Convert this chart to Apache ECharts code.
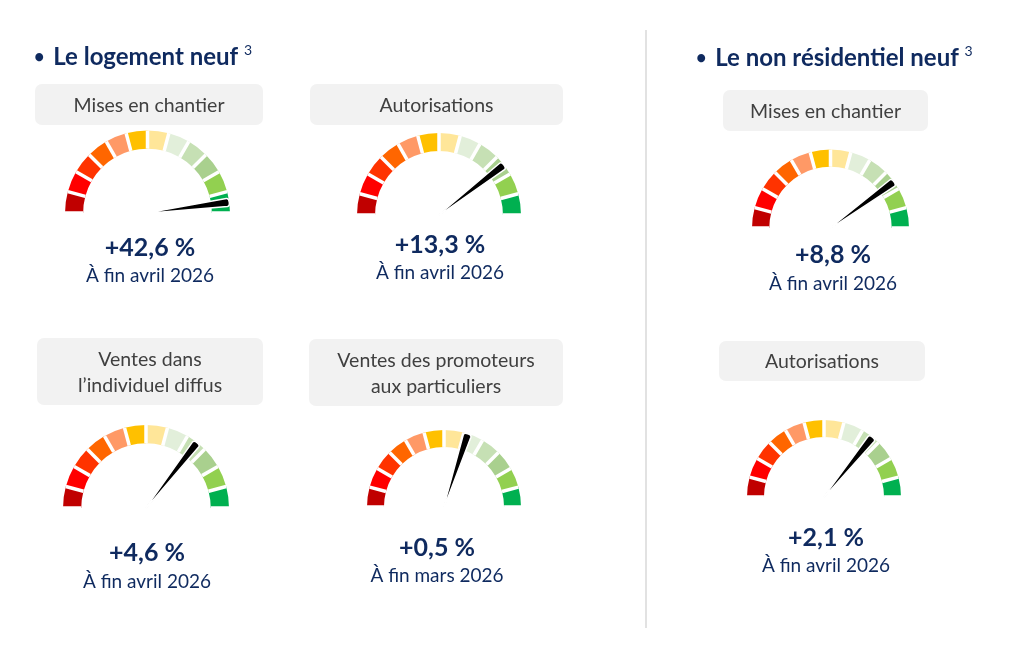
<!DOCTYPE html>
<html>
<head>
<meta charset="UTF-8" />
<title>Construction neuve</title>
<script src="https://cdn.jsdelivr.net/npm/echarts@6/dist/echarts.min.js"></script>
<style>
    html, body { margin: 0; padding: 0; background: #fff; }
    #main { width: 1024px; height: 650px; }
</style>
</head>
<body>
<div id="main"></div>
<script>
var sectionTitles = ['Le logement neuf', 'Le non résidentiel neuf'];
var indicatorNames = ['Mises en chantier', 'Autorisations', 'Ventes dans\nl’individuel diffus',
    'Ventes des promoteurs\naux particuliers', 'Mises en chantier', 'Autorisations'];
var evolutions = ['+42,6 %', '+13,3 %', '+4,6 %', '+0,5 %', '+8,8 %', '+2,1 %'];
var periods = ['À fin avril 2026', 'À fin avril 2026', 'À fin avril 2026', 'À fin mars 2026',
    'À fin avril 2026', 'À fin avril 2026'];
// position de l'aiguille sur le cadran (0 = gauche, 100 = droite)
var needlePos = [95.8, 79.1, 71.1, 60, 80, 71.7];
var zoneColors = ['#c00000', '#ff0000', '#ff3300', '#ff6600', '#ff9966', '#ffc000',
    '#ffe699', '#e2efda', '#c6e0b4', '#a9d08e', '#92d050', '#00b050'];

// mise en page (px)
var layout = [
    { cx: 147.5, cy: 213, r: 82.5, box: [35, 84, 228, 41], tx: 150, vy: 248, dy: 276 },
    { cx: 439, cy: 215, r: 82, box: [310, 84, 253, 41], tx: 440, vy: 245, dy: 273 },
    { cx: 146, cy: 508, r: 83, box: [37, 338, 226, 67], tx: 147, vy: 553, dy: 582 },
    { cx: 444, cy: 507, r: 77, box: [309, 339, 254, 67], tx: 437, vy: 548, dy: 576 },
    { cx: 830.5, cy: 228, r: 78.5, box: [723, 90, 205, 41], tx: 833, vy: 255, dy: 284 },
    { cx: 824, cy: 497, r: 77, box: [719, 341, 206, 40], tx: 826, vy: 538, dy: 566 }
];
var titlePos = [[34, 57], [696, 58]];

var FONT = 'Lato, "Open Sans", sans-serif';
var NAVY = '#0f2a5f';

var axisColors = zoneColors.map(function (c, i) { return [(i + 1) / zoneColors.length, c]; });

function txt(text, x, y, size, weight, color, lh) {
    return {
        type: 'text',
        style: {
            text: text, x: x, y: y,
            fontFamily: FONT, fontSize: size, fontWeight: weight, fill: color,
            align: 'center', verticalAlign: 'middle', textAlign: 'center', textVerticalAlign: 'middle',
            lineHeight: lh || size + 6
        }
    };
}

var graphics = [];
var series = [];

// séparateur vertical
graphics.push({
    type: 'line',
    shape: { x1: 646, y1: 30, x2: 646, y2: 628 },
    style: { stroke: '#d9d9d9', lineWidth: 1.5 }
});

sectionTitles.forEach(function (t, i) {
    graphics.push({
        type: 'text',
        style: {
            text: '{d|•  }{b|' + t + ' }{s|3}',
            x: titlePos[i][0], y: titlePos[i][1],
            align: 'left', verticalAlign: 'middle', textAlign: 'left', textVerticalAlign: 'middle',
            rich: {
                d: { fontFamily: FONT, fontSize: 18, fontWeight: 'bold', fill: NAVY, color: NAVY, lineHeight: 28 },
                b: { fontFamily: FONT, fontSize: 24, fontWeight: 'bold', fill: NAVY, color: NAVY, lineHeight: 28 },
                s: { fontFamily: FONT, fontSize: 14, fill: NAVY, color: NAVY, verticalAlign: 'top', lineHeight: 28 }
            }
        }
    });
});

layout.forEach(function (L, i) {
    graphics.push({
        type: 'rect',
        shape: { x: L.box[0], y: L.box[1], width: L.box[2], height: L.box[3], r: 7 },
        style: { fill: '#f2f2f2' }
    });
    graphics.push(txt(indicatorNames[i], L.box[0] + L.box[2] / 2, L.box[1] + L.box[3] / 2 + 1, 19.5, 'normal', '#404040', 26));
    graphics.push(txt(evolutions[i], L.tx, L.vy, 25, 'bold', NAVY));
    graphics.push(txt(periods[i], L.tx, L.dy, 19, 'normal', NAVY));

    var thick = L.r * 0.22;
    series.push({
        type: 'gauge',
        center: [L.cx, L.cy],
        radius: L.r,
        startAngle: 180,
        endAngle: 0,
        min: 0,
        max: 100,
        splitNumber: zoneColors.length,
        axisLine: { lineStyle: { width: thick, color: axisColors } },
        splitLine: { show: true, distance: -thick, length: thick, lineStyle: { color: '#fff', width: 3.5 } },
        axisTick: { show: false },
        axisLabel: { show: false },
        pointer: {
            icon: 'path://M0,3 Q0,0 5,0 Q10,0 10,3 L5.4,100 L4.6,100 Z',
            length: '100%',
            width: 8,
            itemStyle: { color: '#000', borderColor: '#fff', borderWidth: 1.5 }
        },
        anchor: { show: false },
        title: { show: false },
        detail: { show: false },
        animation: false,
        data: [{ value: needlePos[i] }]
    });
});

var myChart = echarts.init(document.getElementById('main'));
myChart.setOption({
    backgroundColor: '#fff',
    animation: false,
    graphic: graphics,
    series: series
});
</script>
</body>
</html>
